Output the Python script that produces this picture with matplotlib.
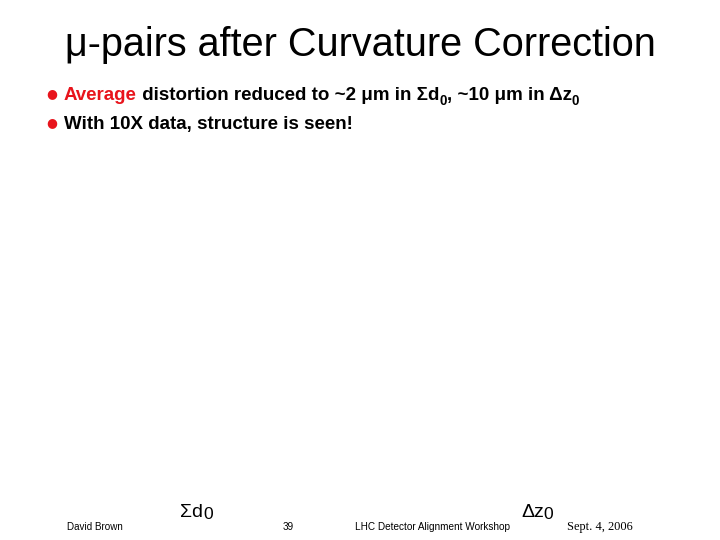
import matplotlib
matplotlib.use("Agg")
import matplotlib.pyplot as plt

title = "μ-pairs after Curvature Correction"
bullet1 = [("Average", "#e8141c", 0), (" distortion reduced to ~2 μm in Σd", "black", 0), ("0", "black", 1),
           (", ~10 μm in Δz", "black", 0), ("0", "black", 1)]
bullet2 = [("With 10X data, structure is seen!", "black", 0)]
footer = ["David Brown", "39", "LHC Detector Alignment Workshop", "Sept. 4, 2006"]
W, H = 720, 540
fig = plt.figure(figsize=(7.2, 5.4), dpi=100)
fig.patch.set_facecolor("white")
FONT = "Liberation Sans"
r = fig.canvas.get_renderer()

def px(x, y):
    return x / W, 1 - y / H

def runs(x, y, items, size, weight="bold", subscale=0.72, subdy=5):
    for s, c, sub in items:
        fs = size * subscale if sub else size
        dy = subdy if sub else 0
        t = fig.text(*px(x, y + dy), s, fontsize=fs, color=c, fontfamily=FONT,
                     fontweight=weight, va="baseline", ha="left")
        bb = t.get_window_extent(r)
        x += bb.width

fig.text(*px(360, 56), title, fontsize=28.5, fontfamily=FONT, ha="center", va="baseline")
for y, b in [(100, bullet1), (129, bullet2)]:
    fig.text(*px(52, y - 6), "●", fontsize=9, color="#e8141c", fontfamily="DejaVu Sans", ha="center", va="center")
    runs(64, y, b, 13.5)
runs(180, 517, [("Σd", "black", 0), ("0", "black", 1)], 14, "normal", 0.9, 2)
runs(521, 517, [("Δz", "black", 0), ("0", "black", 1)], 14, "normal", 0.9, 2)
fig.text(*px(67, 530), footer[0], fontsize=7.1, fontfamily=FONT, va="baseline")
fig.text(*px(288, 530), footer[1], fontsize=7.1, fontfamily=FONT, va="baseline", ha="center")
fig.text(*px(355, 530), footer[2], fontsize=7.2, fontfamily=FONT, va="baseline")
fig.text(*px(567, 530), footer[3], fontsize=8.9, fontfamily="Liberation Serif", va="baseline")
fig.savefig("out.png", dpi=100)
